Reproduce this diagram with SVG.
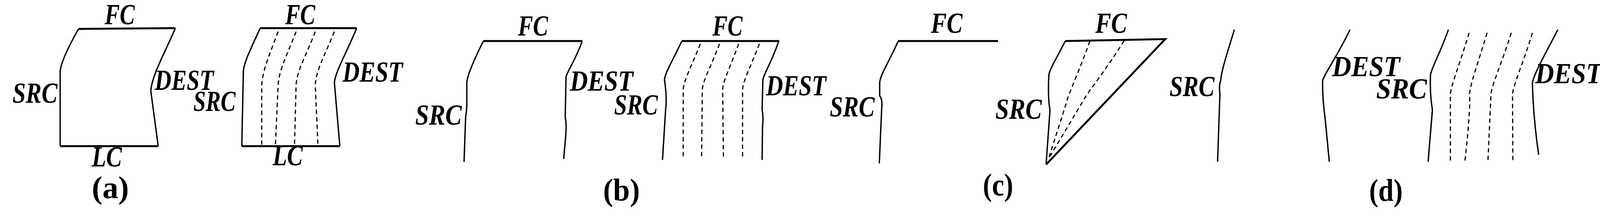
<svg xmlns="http://www.w3.org/2000/svg" width="4124" height="563" viewBox="0 0 4124 563">
<style>
.s{fill:none;stroke:#000;stroke-width:3.5}
.t{fill:none;stroke:#000;stroke-width:5}
.d{fill:none;stroke:#000;stroke-width:3;stroke-dasharray:11 8}
.l{font-family:"Liberation Serif","Times New Roman",serif;font-weight:bold;font-style:italic;font-size:74px;fill:#000}
.c{font-family:"Liberation Serif","Times New Roman",serif;font-weight:bold;font-size:80px;fill:#000}
</style>
<rect width="4124" height="563" fill="#fff"/>
<g id="a1">
<path class="s" d="M201,74 C175,120 156,160 154,183 L154,374"/>
<path class="s" d="M449,72 C420,140 390,190 386,232 L405,374"/>
<path class="t" d="M201,74 L449,72 M154,374 L405,374"/>
<text class="l" x="268" y="62" textLength="77" lengthAdjust="spacingAndGlyphs">FC</text>
<text class="l" x="32" y="263" textLength="115" lengthAdjust="spacingAndGlyphs">SRC</text>
<text class="l" x="396" y="230" textLength="151" lengthAdjust="spacingAndGlyphs">DEST</text>
<text class="l" x="235" y="426" textLength="77" lengthAdjust="spacingAndGlyphs">LC</text>
</g>
<g id="a2">
<path class="s" d="M666,72 C640,130 624,160 623,183 L619,374"/>
<path class="s" d="M913,72 C885,140 860,180 856,211 L870,374"/>
<path class="t" d="M666,72 L913,72 M619,374 L870,374"/>
<path class="d" d="M712,81 C690,140 672,180 670,218 L670,372 M758,81 C735,140 714,180 712,218 L705,372 M807,81 C785,140 760,180 758,218 L754,372 M856,81 C832,140 809,180 807,218 L814,372"/>
<text class="l" x="730" y="62" textLength="77" lengthAdjust="spacingAndGlyphs">FC</text>
<text class="l" x="495" y="284" textLength="108" lengthAdjust="spacingAndGlyphs">SRC</text>
<text class="l" x="877" y="209" textLength="154" lengthAdjust="spacingAndGlyphs">DEST</text>
<text class="l" x="698" y="423" textLength="77" lengthAdjust="spacingAndGlyphs">LC</text>
</g>
<text class="c" x="235" y="507" textLength="95" lengthAdjust="spacingAndGlyphs">(a)</text>
<g id="b1">
<path class="t" d="M1237,105 L1491,105"/>
<path class="s" d="M1237,106 C1215,150 1197,190 1195,211 L1195,270 Q1195,280 1192,300 L1188,414"/>
<path class="s" d="M1490,107 C1470,160 1451,185 1449,197 L1447,300 Q1451,320 1448,350 L1443,407"/>
<text class="l" x="1326" y="91" textLength="77" lengthAdjust="spacingAndGlyphs">FC</text>
<text class="l" x="1063" y="319" textLength="119" lengthAdjust="spacingAndGlyphs">SRC</text>
<text class="l" x="1459" y="232" textLength="162" lengthAdjust="spacingAndGlyphs">DEST</text>
</g>
<g id="b2">
<path class="t" d="M1745,105 L1995,105"/>
<path class="s" d="M1745,106 C1722,155 1703,185 1701,204 Q1708,250 1704,280 L1696,409"/>
<path class="s" d="M1993,107 C1975,160 1955,190 1953,204 L1951,280 Q1955,300 1952,325 L1951,409"/>
<path class="d" d="M1793,112 C1770,170 1751,205 1749,228 L1749,404 M1842,112 C1820,170 1800,205 1798,228 L1796,404 M1891,112 C1870,170 1852,205 1850,228 L1852,404 M1944,112 C1922,170 1903,205 1901,228 L1901,404"/>
<text class="l" x="1824" y="91" textLength="77" lengthAdjust="spacingAndGlyphs">FC</text>
<text class="l" x="1572" y="293" textLength="112" lengthAdjust="spacingAndGlyphs">SRC</text>
<text class="l" x="1961" y="244" textLength="154" lengthAdjust="spacingAndGlyphs">DEST</text>
</g>
<text class="c" x="1544" y="513" textLength="94" lengthAdjust="spacingAndGlyphs">(b)</text>
<g id="c1">
<path class="t" d="M2299,105 L2555,105"/>
<path class="s" d="M2299,106 C2275,160 2254,190 2252,211 L2252,245 Q2260,255 2257,280 L2251,418"/>
<text class="l" x="2383" y="84" textLength="81" lengthAdjust="spacingAndGlyphs">FC</text>
<text class="l" x="2124" y="298" textLength="115" lengthAdjust="spacingAndGlyphs">SRC</text>
</g>
<g id="c2">
<path class="t" d="M2727,105 L2983,100 L2678,421"/>
<path class="s" d="M2727,105 C2705,150 2687,175 2685,193 Q2682,250 2688,281 L2678,421"/>
<path class="d" d="M2790,105 C2760,190 2735,240 2730,263 L2685,404 M2878,104 C2830,180 2790,230 2780,246 L2688,400"/>
<text class="l" x="2804" y="84" textLength="81" lengthAdjust="spacingAndGlyphs">FC</text>
<text class="l" x="2548" y="304" textLength="119" lengthAdjust="spacingAndGlyphs">SRC</text>
</g>
<g id="c3">
<path class="s" d="M3160,76 C3140,140 3126,185 3125,206 Q3120,220 3123,240 L3117,414"/>
<text class="l" x="2994" y="246" textLength="115" lengthAdjust="spacingAndGlyphs">SRC</text>
</g>
<text class="c" x="2516" y="500" textLength="78" lengthAdjust="spacingAndGlyphs">(c)</text>
<g id="d1">
<path class="s" d="M3456,76 C3420,150 3390,190 3386,206 Q3385,250 3392,300 L3403,414"/>
<text class="l" x="3410" y="195" textLength="174" lengthAdjust="spacingAndGlyphs">DEST</text>
</g>
<g id="d2">
<path class="s" d="M3708,76 C3685,140 3664,175 3662,192 Q3660,240 3667,281 L3656,414"/>
<path class="s" d="M3988,76 C3955,140 3926,190 3923,213 Q3925,300 3939,396"/>
<path class="d" d="M3761,84 C3738,160 3716,215 3713,240 L3713,414 M3807,84 C3784,160 3764,215 3762,240 Q3765,280 3750,414 M3869,84 C3845,160 3820,215 3817,240 L3809,414 M3923,84 C3900,160 3875,215 3872,240 L3873,414"/>
<text class="l" x="3523" y="252" textLength="130" lengthAdjust="spacingAndGlyphs">SRC</text>
<text class="l" x="3930" y="213" textLength="171" lengthAdjust="spacingAndGlyphs">DEST</text>
</g>
<text class="c" x="3505" y="514" textLength="86" lengthAdjust="spacingAndGlyphs">(d)</text>
</svg>
